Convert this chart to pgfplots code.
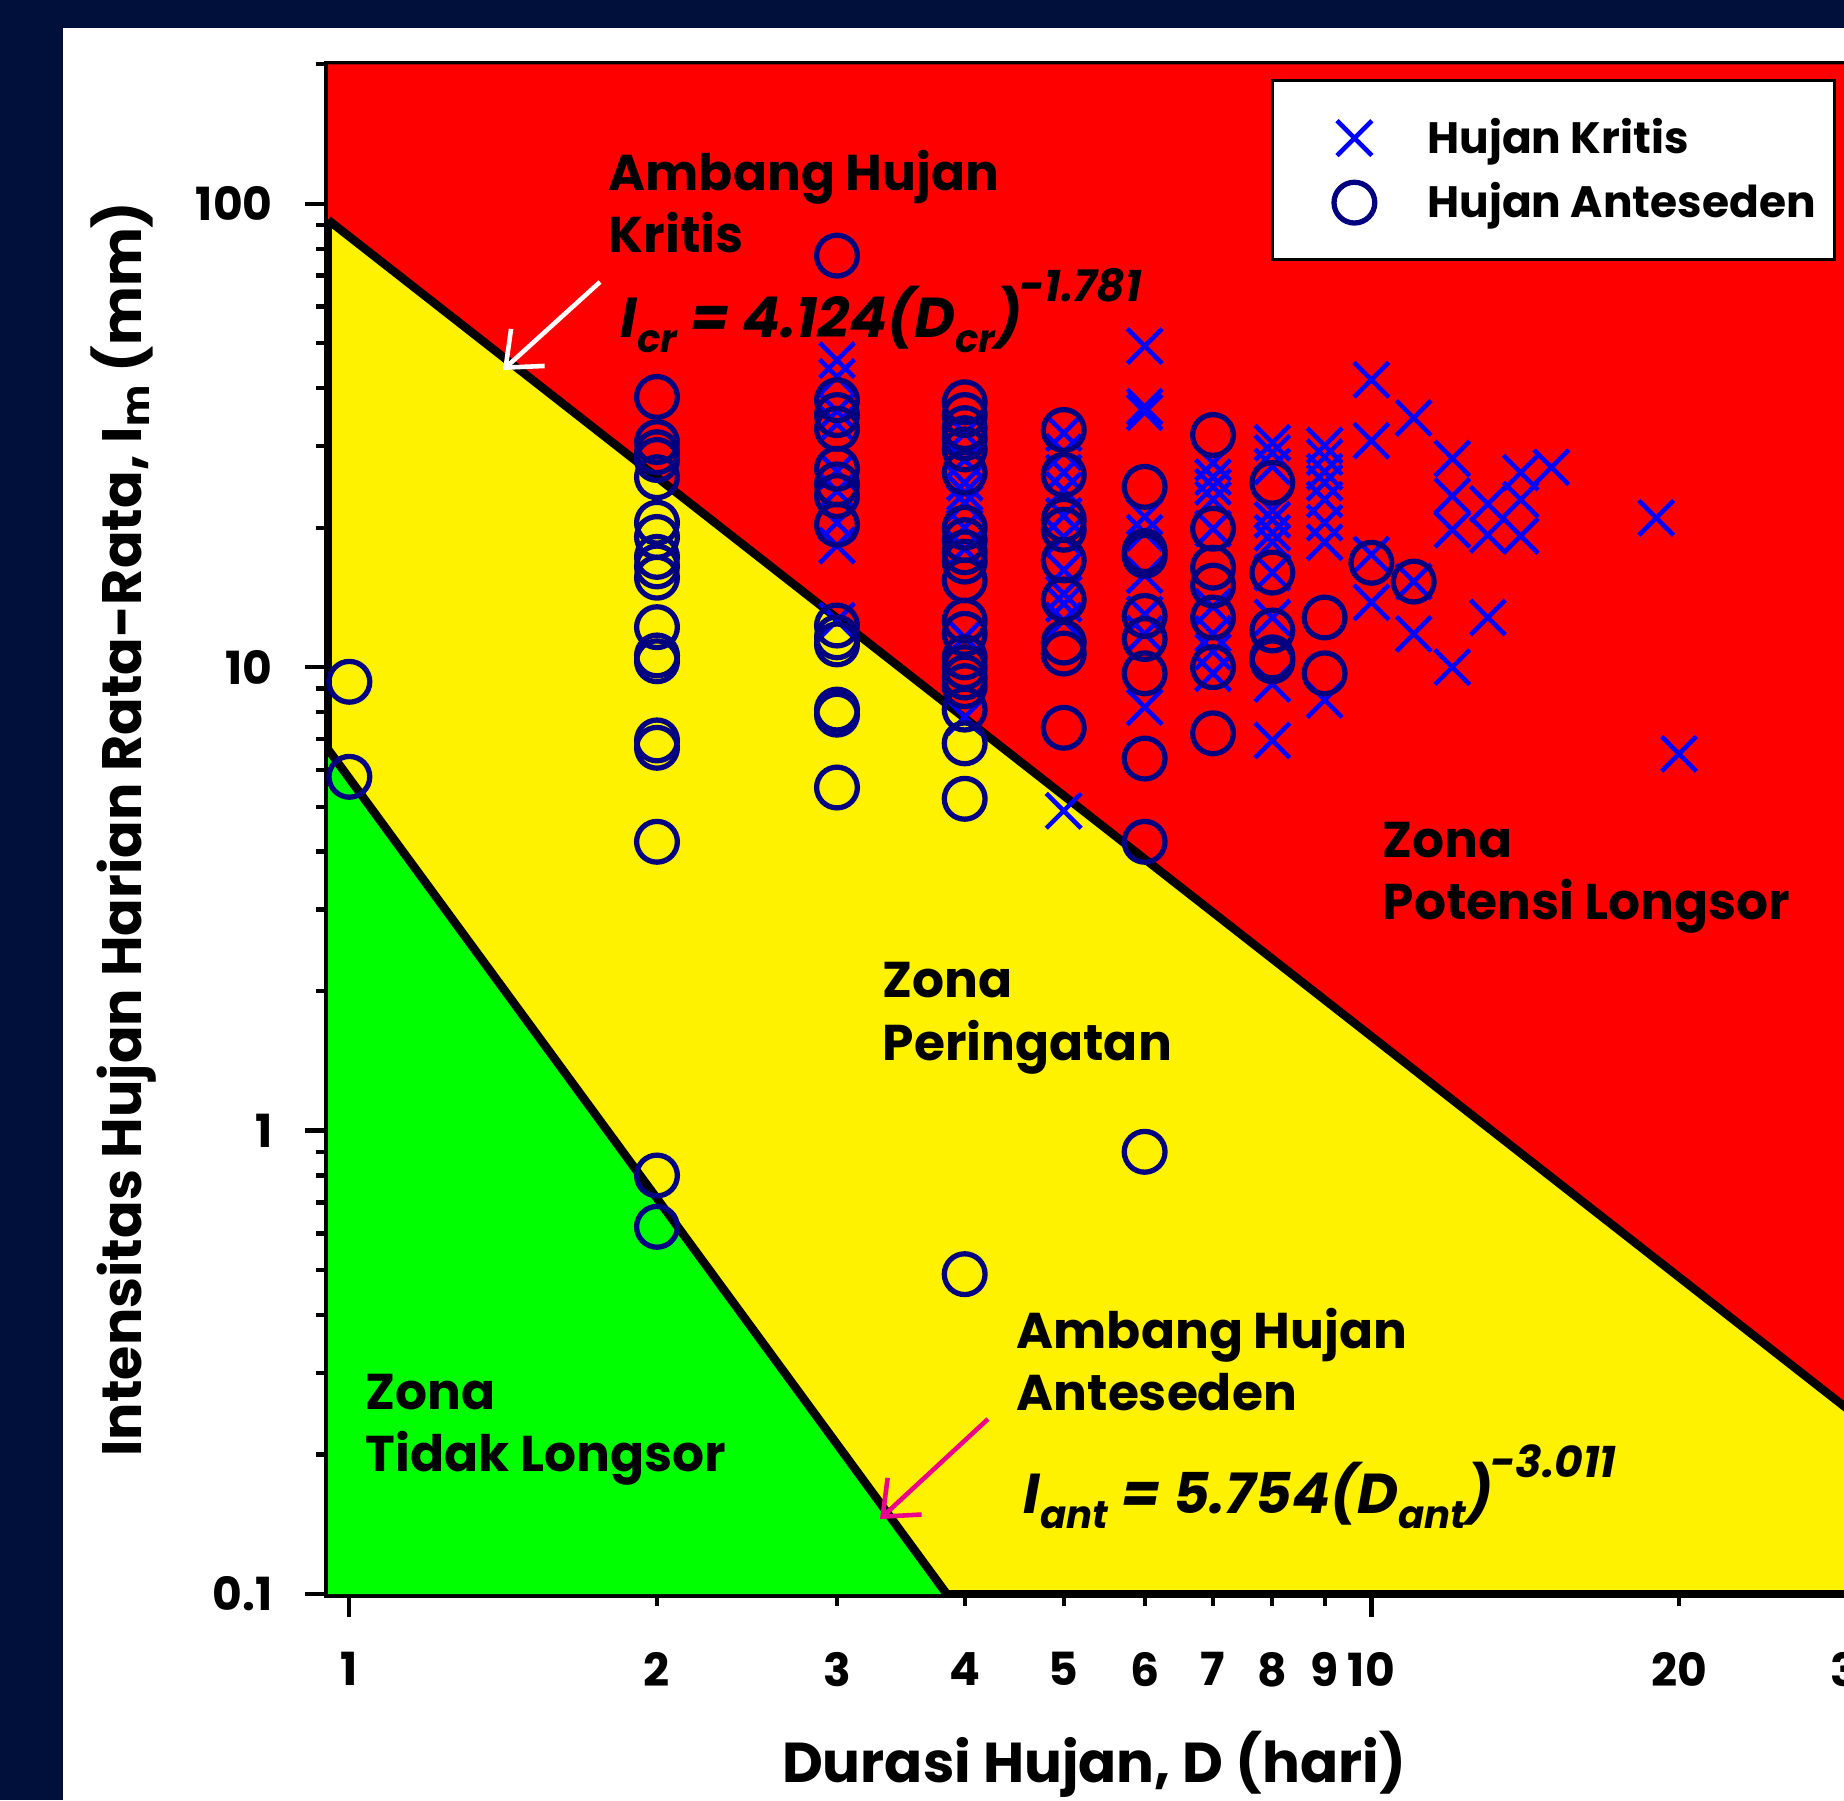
\documentclass[border=0pt]{standalone}
\usepackage{pgfplots}
\pgfplotsset{compat=1.18}
\usepackage{fontspec}
\setmainfont{Poppins}
\usetikzlibrary{arrows.meta}
\definecolor{navybg}{RGB}{0,16,58}
\definecolor{markcirc}{RGB}{0,0,128}
\pgfplotsset{legend image code/.code={\path[draw=none,fill=none] (0cm,0cm) (1.12cm,0cm); \draw[#1] plot coordinates {(0.70cm,0cm)};}}
\begin{document}
\begin{tikzpicture}
\useasboundingbox (0,0) rectangle (18.44,18);
\clip (0,0) rectangle (18.44,18);
\fill[navybg] (0,0) rectangle (18.44,18);
\fill[white] (0.63,0) rectangle (18.44,17.72);
\begin{axis}[
  at={(3.28cm,2.06cm)}, anchor=south west,
  scale only axis, width=16.587cm, height=15.297cm,
  xmode=log, ymode=log,
  xmin=0.953, xmax=40, ymin=0.1, ymax=200,
  axis background/.style={fill=yellow},
  axis line style={line width=2pt},
  tick align=outside, xtick pos=bottom, ytick pos=left,
  xtick={1,10}, xticklabels={1,10},
  extra x ticks={2,3,4,5,6,7,8,9,20,30},
  extra x tick labels={2,3,4,5,6,7,8,9,20,30},
  extra x tick style={major tick length=0.12cm, xticklabel style={yshift=-0.11cm}},
  minor xtick={2,3,4,5,6,7,8,9,20,30},
  ytick={0.1,1,10,100}, yticklabels={0.1,1,10,100},
  minor ytick={0.2,0.3,0.4,0.5,0.6,0.7,0.8,0.9,2,3,4,5,6,7,8,9,20,30,40,50,60,70,80,90,200},
  major tick length=0.23cm, minor tick length=0.12cm,
  every tick/.style={black, line width=1.2pt},
  tick label style={font=\bfseries\fontsize{13}{13}\selectfont},
  xticklabel style={yshift=-0.23cm},
  yticklabel style={xshift=-0.2cm},
  legend style={at={(0.5684,0.9902)}, anchor=north west, draw=black, line width=0.9pt, fill=white,
    font=\bfseries\fontsize{12.5}{15}\selectfont, inner xsep=0.12cm, inner ysep=0.3cm, row sep=0.1cm,
    /tikz/every odd column/.append style={column sep=0.24cm}},
  legend cell align=left,
]
\addplot[fill=red, draw=none, forget plot] coordinates {(0.953,92.3) (40,0.146) (40,200) (0.953,200)} -- cycle;
\addplot[fill=green, draw=none, forget plot] coordinates {(0.953,6.65) (3.842,0.1) (0.953,0.1)} -- cycle;
\addplot[black, line width=2.4pt, forget plot] coordinates {(0.953,92.3) (40,0.146)};
\addplot[black, line width=2.4pt, forget plot] coordinates {(0.953,6.65) (3.842,0.1)};
\addplot[only marks, mark=x, mark size=7pt, blue, line width=1.3pt] coordinates {
(3,46) (3,42.3) (3,35.7) (3,33.5) (3,26.5) (3,24) (3,20.5) (3,18.3) (3,12.6)
(4,32) (4,28) (4,25) (4,23.8) (4,22.6) (4,20) (4,18) (4,11.6) (4,7.8)
(5,32) (5,29.1) (5,26.3) (5,24.1) (5,21.2) (5,19.1) (5,16.2) (5,14.4) (5,13.7) (5,12.6) (5,4.9)
(6,49.3) (6,36.5) (6,35.5) (6,21.1) (6,19.5) (6,15.8) (6,13) (6,11.8) (6,8.2)
(7,27.6) (7,25.7) (7,24.5) (7,23.0) (7,19.9) (7,13.5) (7,11.8) (7,10.8) (7,9.7)
(8,30.5) (8,29.0) (8,27.1) (8,21.8) (8,20.8) (8,19.5) (8,18.6) (8,16.0) (8,12.8) (8,9.2) (8,6.95)
(9,30.1) (9,28.4) (9,26.4) (9,25.0) (9,23.0) (9,20.5) (9,18.6) (9,8.5)
(10,41.7) (10,30.8) (10,17.5) (10,13.8)
(11,34.5) (11,15.3) (11,11.8)
(12,28.2) (12,23.4) (12,19.8) (12,10.0)
(13,22.5) (13,19.3) (13,12.8)
(14,26.3) (14,23.0) (14,19.2)
(15,27.0)
(19,21.0) (20,6.5)
};
\addlegendentry{Hujan Kritis}
\addplot[only marks, mark=o, mark size=5.8pt, markcirc, line width=1.5pt] coordinates {
(1,9.3) (1,5.8)
(2,38.3) (2,30.6) (2,29.1) (2,28.0) (2,25.7) (2,20.5) (2,19.1) (2,17.3) (2,16.5) (2,15.6) (2,12.2) (2,10.6) (2,10.3) (2,6.95) (2,6.7) (2,4.2) (2,0.8) (2,0.62)
(3,77.3) (3,37.7) (3,35.0) (3,32.7) (3,26.8) (3,24.8) (3,23.4) (3,20.3) (3,12.3) (3,11.6) (3,11.2) (3,8.1) (3,7.9) (3,5.5)
(4,37.3) (4,35.0) (4,32.8) (4,31.2) (4,29.5) (4,26.3) (4,20.0) (4,18.8) (4,17.7) (4,16.9) (4,15.4) (4,12.6) (4,11.8) (4,10.5) (4,10.0) (4,9.5) (4,9.1) (4,8.1) (4,6.85) (4,5.2) (4,0.49)
(5,32.5) (5,26.0) (5,20.8) (5,19.8) (5,17.0) (5,14.0) (5,11.3) (5,10.7) (5,7.4)
(6,24.5) (6,17.8) (6,17.4) (6,12.9) (6,11.5) (6,9.7) (6,6.35) (6,4.2) (6,0.9)
(7,31.7) (7,19.9) (7,16.4) (7,15.0) (7,12.8) (7,10.0) (7,7.2)
(8,25.0) (8,16.0) (8,12.0) (8,10.5) (8,10.3)
(9,12.8) (9,9.7)
(10,16.8) (11,15.3)
};
\addlegendentry{Hujan Anteseden}
\end{axis}
\tikzset{lab/.style={anchor=base west, inner sep=0, font=\bfseries\fontsize{14.3}{14.3}\selectfont}}
\node[lab] at (6.08,16.09) {Ambang Hujan};
\node[lab] at (6.08,15.47) {Kritis};
\node[lab] at (13.82,9.43) {Zona};
\node[lab] at (13.82,8.80) {Potensi Longsor};
\node[lab] at (8.82,8.03) {Zona};
\node[lab] at (8.82,7.40) {Peringatan};
\node[lab] at (3.65,3.91) {Zona};
\node[lab] at (3.65,3.29) {Tidak Longsor};
\node[lab] at (10.16,4.52) {Ambang Hujan};
\node[lab] at (10.16,3.90) {Anteseden};
\node[anchor=base west, inner sep=0, font=\bfseries\itshape\fontsize{16}{16}\selectfont] at (6.20,14.62)
  {I\raisebox{-0.15cm}{\fontsize{11}{11}\selectfont cr} = 4.124(D\raisebox{-0.15cm}{\fontsize{11}{11}\selectfont cr})\kern-0.03cm\raisebox{0.36cm}{\fontsize{12.5}{12.5}\selectfont -1.781}};
\node[anchor=base west, inner sep=0, font=\bfseries\itshape\fontsize{16}{16}\selectfont] at (10.23,2.87)
  {I\raisebox{-0.15cm}{\fontsize{11}{11}\selectfont ant} = 5.754(D\raisebox{-0.15cm}{\fontsize{11}{11}\selectfont ant})\kern-0.03cm\raisebox{0.36cm}{\fontsize{12.5}{12.5}\selectfont -3.011}};
\draw[white, line width=1.3pt, -{Straight Barb[length=0.3cm,width=0.5cm]}] (6.00,15.18) -- (5.03,14.30);
\draw[magenta, line width=1.3pt, -{Straight Barb[length=0.3cm,width=0.5cm]}] (9.88,3.81) -- (8.80,2.81);
\node[anchor=base, inner sep=0, font=\bfseries\fontsize{16}{16}\selectfont] at (10.94,0.18) {Durasi Hujan, D (hari)};
\node[anchor=base, rotate=90, inner sep=0, font=\bfseries\fontsize{15.8}{15.8}\selectfont] at (1.42,9.71) {Intensitas Hujan Harian Rata-Rata, I\textsubscript{m} (mm)};
\end{tikzpicture}
\end{document}
